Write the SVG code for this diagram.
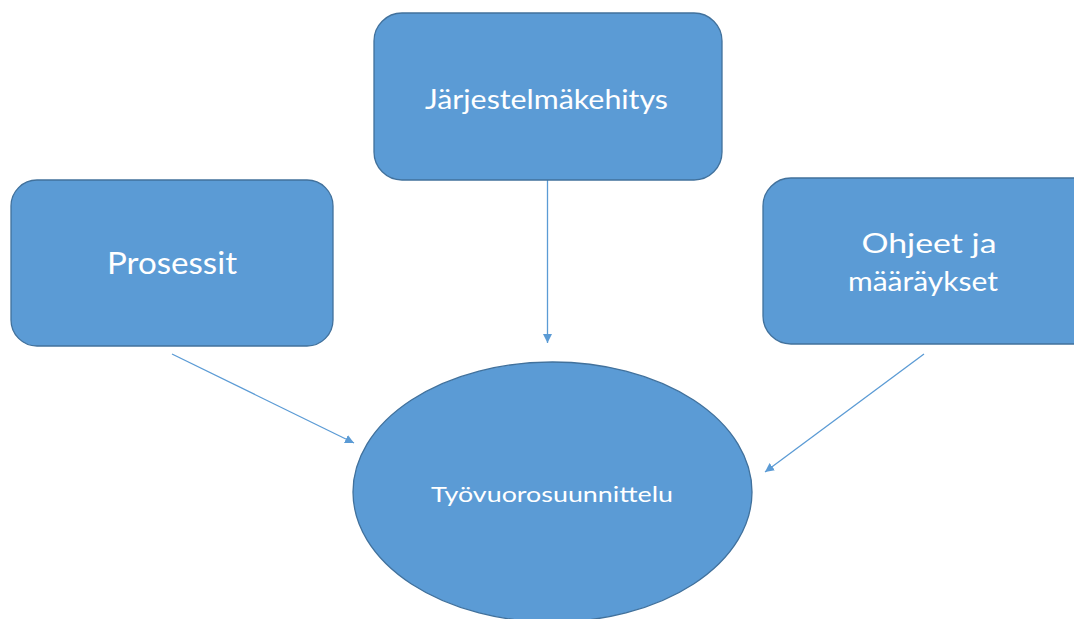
<svg xmlns="http://www.w3.org/2000/svg" width="1074" height="619" viewBox="0 0 1074 619">
<defs>
<style>
.node{fill:#5B9BD5;stroke:#41719C;stroke-width:1.3}
.lbl{fill:#ffffff;font-family:"Lato","Open Sans","Liberation Sans",sans-serif;text-anchor:middle}
.conn{stroke:#5B9BD5;stroke-width:1.3;fill:none;marker-end:url(#ah)}
</style>
<marker id="ah" viewBox="0 0 10 10" refX="10" refY="5" markerWidth="9" markerHeight="9" markerUnits="userSpaceOnUse" orient="auto">
<path d="M0,0 L10,5 L0,10 z" fill="#5B9BD5"/>
</marker>
</defs>
<rect width="1074" height="619" fill="#ffffff"/>
<g id="connectors">
<line class="conn" x1="547.5" y1="180" x2="547.5" y2="343"/>
<line class="conn" x1="172" y1="354" x2="354" y2="443"/>
<line class="conn" x1="924" y1="354" x2="765" y2="472"/>
</g>
<g id="node-prosessit">
<rect class="node" x="11" y="180" width="322" height="166" rx="26"/>
<text class="lbl" x="172" y="274" font-size="30" textLength="130" lengthAdjust="spacingAndGlyphs">Prosessit</text>
</g>
<g id="node-jarjestelmakehitys">
<rect class="node" x="374" y="13" width="348" height="167" rx="28"/>
<text class="lbl" x="546.5" y="109" font-size="26" textLength="243" lengthAdjust="spacingAndGlyphs">Järjestelmäkehitys</text>
</g>
<g id="node-ohjeet">
<rect class="node" x="763" y="178" width="340" height="166" rx="28"/>
<text class="lbl" x="929" y="253" font-size="26" textLength="135" lengthAdjust="spacingAndGlyphs">Ohjeet ja</text>
<text class="lbl" x="923" y="291" font-size="26" textLength="150" lengthAdjust="spacingAndGlyphs">määräykset</text>
</g>
<g id="node-tyovuorosuunnittelu">
<ellipse class="node" cx="552.5" cy="492" rx="199.5" ry="130"/>
<text class="lbl" x="552" y="502" font-size="22" textLength="242" lengthAdjust="spacingAndGlyphs">Työvuorosuunnittelu</text>
</g>
</svg>
